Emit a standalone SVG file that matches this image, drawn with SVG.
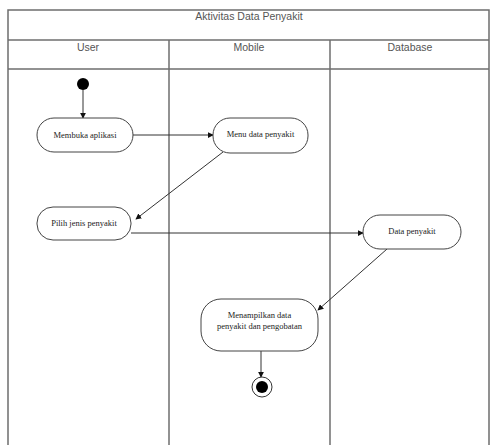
<svg xmlns="http://www.w3.org/2000/svg" width="490" height="445" viewBox="0 0 490 445">
<style>
.lane{fill:none;stroke:#6e6e6e;stroke-width:1.5}
.hdr{font-family:"Liberation Sans",Arial,sans-serif;font-size:10.5px;fill:#555;text-anchor:middle}
.node{fill:#fff;stroke:#444;stroke-width:1}
.lbl{font-family:"Liberation Serif","Times New Roman",serif;font-size:8.5px;fill:#222;text-anchor:middle}
.edge{fill:none;stroke:#333;stroke-width:1;marker-end:url(#arr)}
</style>
<defs>
<marker id="arr" viewBox="0 0 8 8" refX="7" refY="4" markerWidth="6" markerHeight="6" orient="auto" markerUnits="userSpaceOnUse">
<path d="M0,0 L8,4 L0,8 z" fill="#111"/>
</marker>
</defs>
<rect width="490" height="445" fill="#fff"/>
<g id="swimlanes">
<path class="lane" d="M8,445 V10 H489 V445"/>
<line class="lane" x1="8" y1="40" x2="489" y2="40"/>
<line class="lane" x1="8" y1="69" x2="489" y2="69"/>
<line class="lane" x1="169" y1="40" x2="169" y2="445"/>
<line class="lane" x1="330" y1="40" x2="330" y2="445"/>
<text class="hdr" x="249" y="20">Aktivitas Data Penyakit</text>
<text class="hdr" x="88" y="51">User</text>
<text class="hdr" x="249" y="51">Mobile</text>
<text class="hdr" x="410" y="51">Database</text>
</g>
<g id="connectors">
<line class="edge" x1="83" y1="90" x2="83" y2="118"/>
<line class="edge" x1="133" y1="135" x2="213" y2="135"/>
<line class="edge" x1="223" y1="152" x2="136" y2="219"/>
<line class="edge" x1="131" y1="233" x2="363" y2="233"/>
<line class="edge" x1="387" y1="249" x2="318" y2="310"/>
<line class="edge" x1="261" y1="351" x2="261" y2="377"/>
</g>
<g id="start"><circle cx="83" cy="84" r="6" fill="#000"/></g>
<g id="membuka"><rect class="node" x="37" y="118" width="96" height="34" rx="17"/><text class="lbl" x="85" y="138">Membuka aplikasi</text></g>
<g id="menu"><rect class="node" x="213" y="118" width="95" height="35" rx="17"/><text class="lbl" x="260.5" y="137">Menu data penyakit</text></g>
<g id="pilih"><rect class="node" x="37" y="207" width="94" height="33" rx="16"/><text class="lbl" x="84" y="226">Pilih jenis penyakit</text></g>
<g id="data"><rect class="node" x="363" y="215" width="98" height="34" rx="17"/><text class="lbl" x="412" y="234">Data penyakit</text></g>
<g id="menampilkan"><rect class="node" x="201" y="299" width="117" height="52" rx="20"/><text class="lbl" x="259.5" y="318">Menampilkan data</text><text class="lbl" x="259.5" y="329">penyakit dan pengobatan</text></g>
<g id="end"><circle cx="262" cy="387" r="10" fill="#fff" stroke="#333" stroke-width="1"/><circle cx="262" cy="387" r="6" fill="#000"/></g>
</svg>
